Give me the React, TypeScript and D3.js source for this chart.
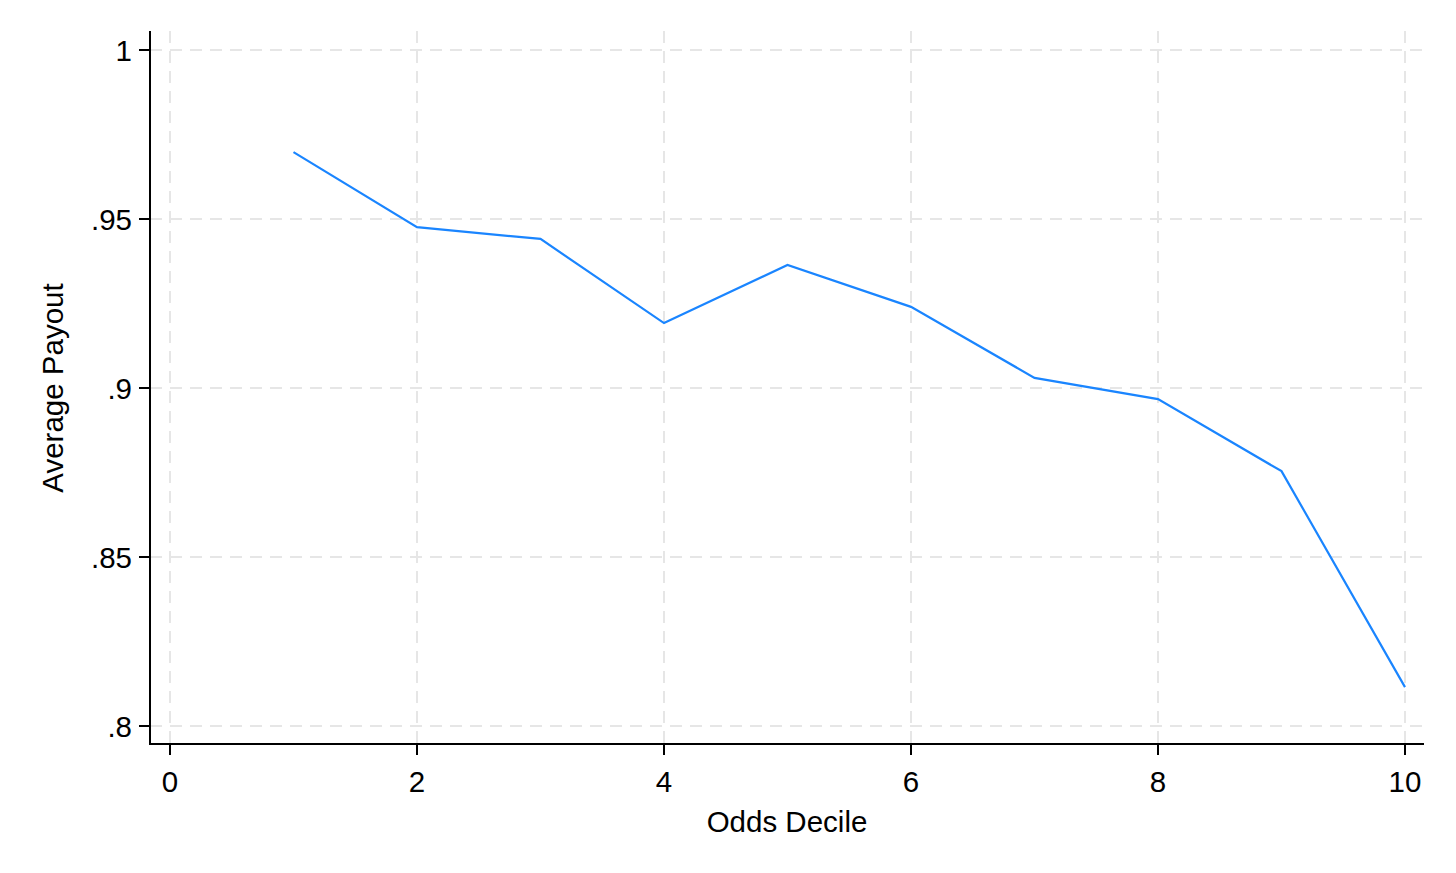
import React from 'react';
import * as d3 from 'd3';

const deciles = [1, 2, 3, 4, 5, 6, 7, 8, 9, 10];
const payouts = [0.9698, 0.9476, 0.9441, 0.9192, 0.9364, 0.924, 0.903, 0.8967, 0.8754, 0.8115];
const xTicks = [0, 2, 4, 6, 8, 10];
const yTicks = [0.8, 0.85, 0.9, 0.95, 1];
const yTickLabels = ['.8', '.85', '.9', '.95', '1'];

const W = 1456;
const H = 873;

const App = () => {
  // axis frame
  const left = 150;
  const right = 1424;
  const top = 31;
  const bottom = 744;

  const x = d3.scaleLinear().domain([0, 10]).range([170, 1405]);
  const y = d3.scaleLinear().domain([0.8, 1]).range([726, 50]);

  const line = d3.line<number>()
    .x((_, i) => x(deciles[i]))
    .y(d => y(d));

  const font = 'Liberation Sans, Arial, sans-serif';
  const fs = 29.5;
  const grid = '#e6e6e6';

  return (
    <div style={{ position: 'absolute', left: 0, top: 0 }}>
      <svg width={W} height={H} viewBox={`0 0 ${W} ${H}`} style={{ display: 'block', background: '#fff' }}>
        {/* grid */}
        {yTicks.map(t => (
          <line key={'gy' + t} x1={left} x2={right} y1={y(t)} y2={y(t)}
            stroke={grid} strokeWidth={2} strokeDasharray="12 8" />
        ))}
        {xTicks.map(t => (
          <line key={'gx' + t} x1={x(t)} x2={x(t)} y1={top} y2={bottom}
            stroke={grid} strokeWidth={2} strokeDasharray="12 8" />
        ))}

        {/* data line */}
        <path d={line(payouts) || ''} fill="none" stroke="#1a85ff" strokeWidth={2.2} />

        {/* axes */}
        <line x1={left} x2={left} y1={top} y2={bottom} stroke="#000" strokeWidth={2} />
        <line x1={left - 1} x2={right} y1={bottom} y2={bottom} stroke="#000" strokeWidth={2} />

        {yTicks.map((t, i) => (
          <g key={'ty' + t}>
            <line x1={left - 11} x2={left} y1={y(t)} y2={y(t)} stroke="#000" strokeWidth={2} />
            <text x={left - 18} y={y(t)} dy="0.36em" textAnchor="end" fontFamily={font} fontSize={fs}>
              {yTickLabels[i]}
            </text>
          </g>
        ))}
        {xTicks.map(t => (
          <g key={'tx' + t}>
            <line x1={x(t)} x2={x(t)} y1={bottom} y2={bottom + 11} stroke="#000" strokeWidth={2} />
            <text x={x(t)} y={781} dy="0.36em" textAnchor="middle" fontFamily={font} fontSize={fs}>
              {t}
            </text>
          </g>
        ))}

        <text x={787} y={821} dy="0.36em" textAnchor="middle" fontFamily={font} fontSize={fs}>
          Odds Decile
        </text>
        <text transform={`translate(52,388) rotate(-90)`} dy="0.36em" textAnchor="middle"
          fontFamily={font} fontSize={fs}>
          Average Payout
        </text>
      </svg>
    </div>
  );
};

export default App;
